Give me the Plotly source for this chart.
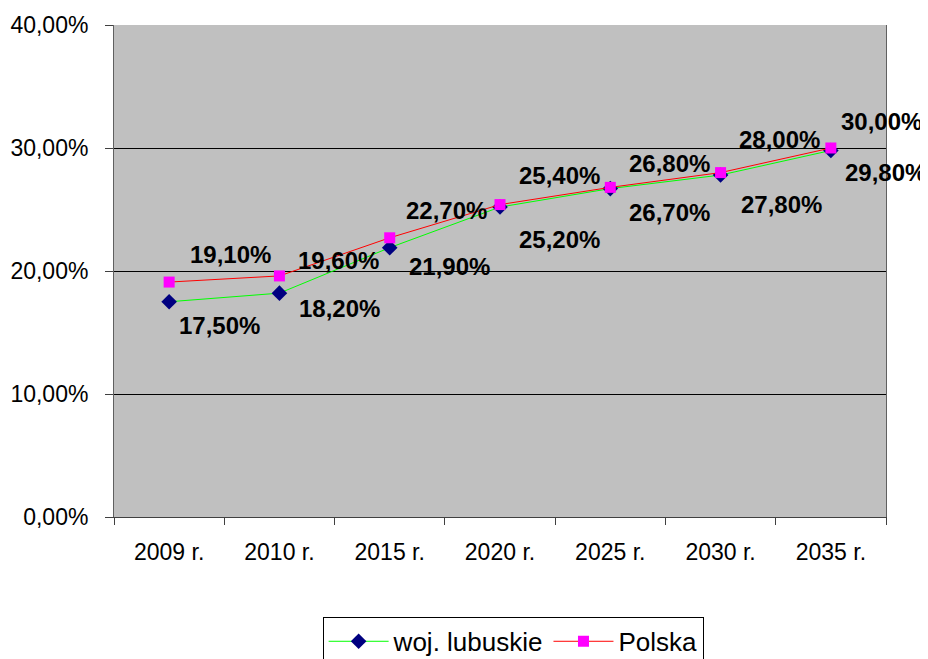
import plotly.graph_objects as go

categories = ["2009 r.", "2010 r.", "2015 r.", "2020 r.", "2025 r.", "2030 r.", "2035 r."]
lubuskie = [0.175, 0.182, 0.219, 0.252, 0.267, 0.278, 0.298]
polska = [0.191, 0.196, 0.227, 0.254, 0.268, 0.280, 0.300]
y_ticks = [0.0, 0.1, 0.2, 0.3, 0.4]

# label offsets in pixels (style)
pol_off = [(61, 28), (59, 15), (57, 27), (59, 29), (59, 24), (59, 33), (51, 27)]
lub_off = [(50, -24), (60, -15), (60, -19), (59, -32), (59, -24), (61, -29), (55, -22)]

FONT = "Liberation Sans, Arial, sans-serif"

fig = go.Figure()
fig.add_trace(go.Scatter(
    x=categories, y=lubuskie, name="woj. lubuskie", mode="lines+markers",
    line=dict(color="#00FF00", width=1),
    marker=dict(symbol="diamond", color="#000080", size=12),
))
fig.add_trace(go.Scatter(
    x=categories, y=polska, name="Polska", mode="lines+markers",
    line=dict(color="#FF0000", width=1),
    marker=dict(symbol="square", color="#FF00FF", size=11),
))

def fmt(v):
    return f"{v*100:.2f}%".replace(".", ",")

annotations = []
for c, v, (dx, dy) in zip(categories, polska, pol_off):
    annotations.append(dict(x=c, y=v, xref="x", yref="y", text=fmt(v), showarrow=False,
                            xshift=dx, yshift=dy,
                            font=dict(family=FONT, size=24, color="black", weight="bold")))
for c, v, (dx, dy) in zip(categories, lubuskie, lub_off):
    annotations.append(dict(x=c, y=v, xref="x", yref="y", text=fmt(v), showarrow=False,
                            xshift=dx, yshift=dy,
                            font=dict(family=FONT, size=24, color="black", weight="bold")))

# the page body adds an 8px offset; size the figure so it fills the window
fig.update_layout(
    width=920, height=651,
    margin=dict(l=106, r=42, t=17, b=142, autoexpand=False),
    paper_bgcolor="white", plot_bgcolor="#C0C0C0",
    separators=", ",
    font=dict(family=FONT, size=23, color="black"),
    showlegend=True,
    legend=dict(orientation="h", x=0.517, xanchor="center", y=-0.203, yanchor="top",
                bordercolor="black", borderwidth=1, bgcolor="white",
                font=dict(family=FONT, size=26, color="black"),
                itemwidth=60),
    annotations=annotations,
    xaxis=dict(type="category", tickson="boundaries", ticks="outside", ticklen=7,
               tickcolor="#404040", showgrid=False, showline=True, linecolor="#404040",
               range=[-0.5, 6.5], ticklabelstandoff=14, automargin=False),
    yaxis=dict(range=[0, 0.4], tickvals=y_ticks, tickformat=".2%", ticks="outside",
               ticklen=8, tickcolor="#404040", showgrid=True, gridcolor="black", gridwidth=1,
               showline=True, linecolor="#606060", mirror=True, zeroline=False,
               ticklabelstandoff=12, automargin=False),
)

fig.write_html("out.html")
